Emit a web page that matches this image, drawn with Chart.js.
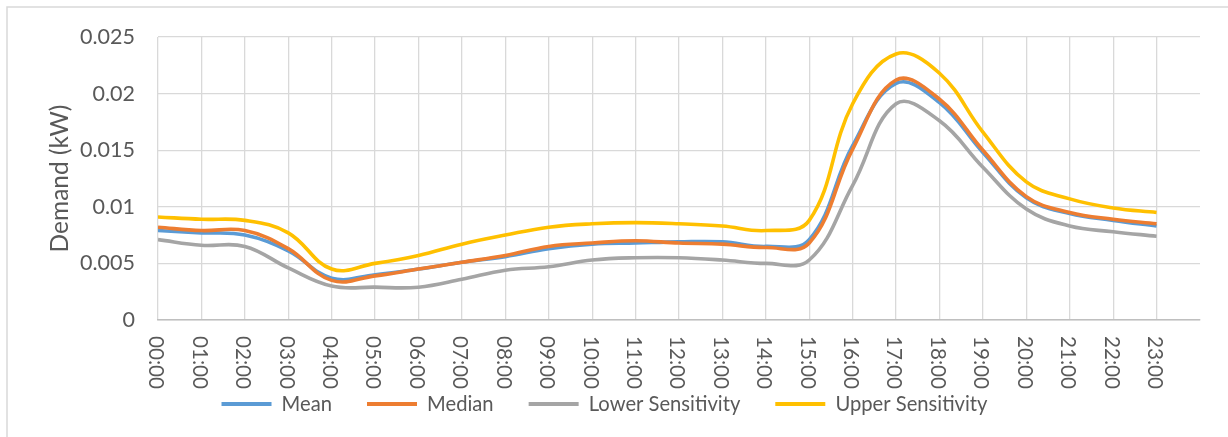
<!DOCTYPE html>
<html>
<head>
<meta charset="utf-8">
<script src="https://cdn.jsdelivr.net/npm/chart.js@4/dist/chart.umd.min.js"></script>
<style>
  html, body { margin: 0; padding: 0; background: #ffffff; overflow: hidden; }
  #wrap { position: relative; width: 1228px; height: 437px; }
</style>
</head>
<body>
<div id="wrap"><canvas id="demandChart" width="1228" height="437"></canvas></div>
<script>
// Hourly demand profile (kW)
const hours = ['00:00','01:00','02:00','03:00','04:00','05:00','06:00','07:00','08:00','09:00','10:00','11:00',
               '12:00','13:00','14:00','15:00','16:00','17:00','18:00','19:00','20:00','21:00','22:00','23:00'];

const meanDemand = [0.0079, 0.0077, 0.0075, 0.0061, 0.0037, 0.0040, 0.0045, 0.0051, 0.0056, 0.0063, 0.0067, 0.0068,
                    0.0069, 0.0069, 0.0065, 0.0071, 0.0154, 0.0209, 0.0192, 0.0148, 0.0108, 0.0094, 0.0088, 0.0083];

const medianDemand = [0.0082, 0.0079, 0.0079, 0.0063, 0.0035, 0.0039, 0.0045, 0.0051, 0.0057, 0.0065, 0.0068, 0.0070,
                      0.0068, 0.0067, 0.0064, 0.0068, 0.0151, 0.0212, 0.0195, 0.0150, 0.0109, 0.0095, 0.0089, 0.0085];

const lowerSensitivity = [0.0071, 0.0066, 0.0065, 0.0046, 0.0030, 0.0029, 0.0029, 0.0036, 0.0044, 0.0047, 0.0053, 0.0055,
                          0.0055, 0.0053, 0.0050, 0.0053, 0.0119, 0.0191, 0.0176, 0.0135, 0.0098, 0.0083, 0.0078, 0.0074];

const upperSensitivity = [0.0091, 0.0089, 0.0088, 0.0077, 0.0045, 0.0050, 0.0057, 0.0067, 0.0075, 0.0082, 0.0085, 0.0086,
                          0.0085, 0.0083, 0.0079, 0.0088, 0.0191, 0.0235, 0.0218, 0.0166, 0.0122, 0.0107, 0.0099, 0.0095];

const yTickLabels = ['0', '0.005', '0.01', '0.015', '0.02', '0.025'];
const yStep = 0.005;

const FONT = 'Lato, "Liberation Sans", sans-serif';
const TEXT = '#595959';
const GRID = '#d9d9d9';

// Pick a font size that gives a string the wanted run length
const probe = document.createElement('canvas').getContext('2d');
function sizeFor(text, width) {
  probe.font = '100px ' + FONT;
  return Math.round(1000 * width / probe.measureText(text).width) / 10;
}
const tickSize = sizeFor('0.025', 55);
const titleSize = sizeFor('Demand (kW)', 148);
const legendSize = sizeFor('Upper Sensitivity', 152);
const hourSize = sizeFor('00:00', 53);

const legendPad = 35;
const bottomPad = Math.max(0, 437 - 10 - legendSize / 2 - 404);
const xAxisHeight = 437 - bottomPad - (legendSize + legendPad + 10) - 320;

function series(label, values, color, order) {
  return {
    label,
    data: values.map((v, i) => ({ x: i, y: v })),
    borderColor: color,
    backgroundColor: color,
    borderWidth: 3.6,
    pointRadius: 0,
    pointHoverRadius: 0,
    tension: 0.4,
    fill: false,
    order
  };
}

// Thin frame along the left and top edges
const framePlugin = {
  id: 'frame',
  beforeDraw(chart) {
    const ctx = chart.ctx;
    ctx.save();
    ctx.strokeStyle = GRID;
    ctx.lineWidth = 1.5;
    ctx.beginPath();
    ctx.moveTo(7, chart.height);
    ctx.lineTo(7, 7);
    ctx.lineTo(chart.width, 7);
    ctx.stroke();
    ctx.restore();
  }
};

// Hour labels, turned to read downward from the axis
const hourLabelPlugin = {
  id: 'hourLabels',
  afterDraw(chart) {
    const ctx = chart.ctx;
    const xs = chart.scales.x;
    const top = chart.chartArea.bottom + 16;
    ctx.save();
    ctx.fillStyle = TEXT;
    ctx.font = hourSize + 'px ' + FONT;
    ctx.textAlign = 'left';
    ctx.textBaseline = 'middle';
    hours.forEach((h, i) => {
      const x = xs.getPixelForValue(i) - 2;
      ctx.save();
      ctx.translate(x, top);
      ctx.rotate(Math.PI / 2);
      ctx.fillText(h, 0, 0);
      ctx.restore();
    });
    ctx.restore();
  }
};

new Chart(document.getElementById('demandChart'), {
  type: 'line',
  data: {
    datasets: [
      series('Mean', meanDemand, '#5B9BD5', 4),
      series('Median', medianDemand, '#ED7D31', 3),
      series('Lower Sensitivity', lowerSensitivity, '#A5A5A5', 2),
      series('Upper Sensitivity', upperSensitivity, '#FFC000', 1)
    ]
  },
  options: {
    responsive: false,
    animation: false,
    devicePixelRatio: 1,
    layout: { padding: { top: 37, right: 28, left: 9, bottom: bottomPad } },
    plugins: {
      tooltip: { enabled: false },
      legend: {
        position: 'bottom',
        labels: {
          boxWidth: 50,
          boxHeight: 4,
          padding: legendPad,
          color: TEXT,
          font: { family: FONT, size: legendSize },
          sort: (a, b) => a.datasetIndex - b.datasetIndex,
          generateLabels: chart => Chart.defaults.plugins.legend.labels.generateLabels(chart)
            .map(item => Object.assign(item, { lineWidth: 0 }))
        }
      }
    },
    scales: {
      x: {
        type: 'linear',
        min: 0,
        max: 24,
        ticks: { display: false, stepSize: 1 },
        grid: {
          color: c => (c.tick && c.tick.value === 24) ? 'rgba(0,0,0,0)' : GRID,
          lineWidth: 1.3,
          drawTicks: false
        },
        border: { color: '#bfbfbf', width: 1.5 },
        afterFit: s => { s.height = xAxisHeight; }
      },
      y: {
        min: 0,
        max: 0.025,
        ticks: {
          stepSize: yStep,
          padding: 23,
          color: TEXT,
          font: { family: FONT, size: tickSize },
          callback: v => yTickLabels[Math.round(v / yStep)]
        },
        grid: { color: GRID, lineWidth: 1.3, drawTicks: false },
        border: { display: false },
        title: {
          display: true,
          text: 'Demand (kW)',
          color: TEXT,
          font: { family: FONT, size: titleSize },
          padding: { top: 36, bottom: 0 }
        },
        afterFit: s => { s.width = 149; }
      }
    }
  },
  plugins: [framePlugin, hourLabelPlugin]
});
</script>
</body>
</html>
